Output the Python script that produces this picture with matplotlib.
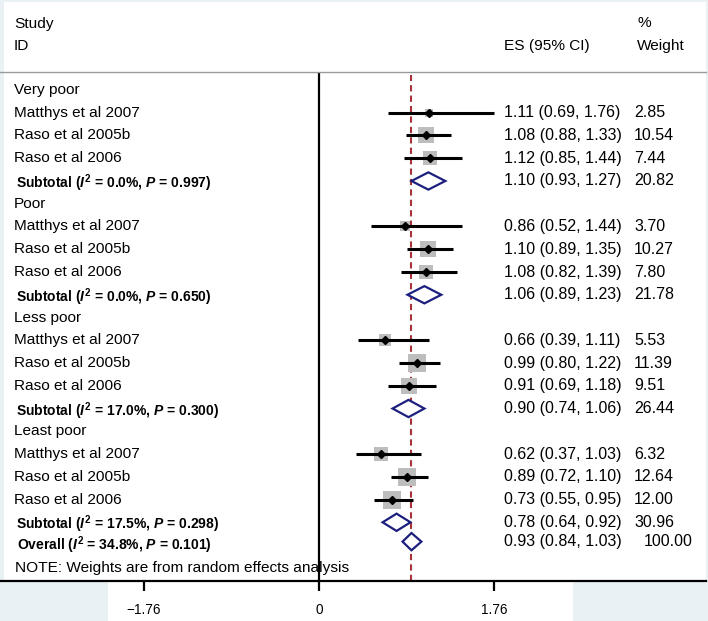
import numpy as np
import matplotlib.pyplot as plt
from matplotlib.patches import Polygon, Rectangle

plt.rcParams['font.family'] = ['Liberation Sans', 'DejaVu Sans']
plt.rcParams['mathtext.fontset'] = 'custom'
plt.rcParams['mathtext.it'] = 'Liberation Sans:italic:bold'
plt.rcParams['mathtext.rm'] = 'Liberation Sans:bold'
plt.rcParams['mathtext.bf'] = 'Liberation Sans:bold'

# data
groups = ['Very poor', 'Poor', 'Less poor', 'Least poor']
studies = ['Matthys et al 2007', 'Raso et al 2005b', 'Raso et al 2006']
es = [[1.11, 1.08, 1.12], [0.86, 1.10, 1.08], [0.66, 0.99, 0.91], [0.62, 0.89, 0.73]]
lo = [[0.69, 0.88, 0.85], [0.52, 0.89, 0.82], [0.39, 0.80, 0.69], [0.37, 0.72, 0.55]]
hi = [[1.76, 1.33, 1.44], [1.44, 1.35, 1.39], [1.11, 1.22, 1.18], [1.03, 1.10, 0.95]]
wt = [[2.85, 10.54, 7.44], [3.70, 10.27, 7.80], [5.53, 11.39, 9.51], [6.32, 12.64, 12.00]]
sub_es = [1.10, 1.06, 0.90, 0.78]
sub_lo = [0.93, 0.89, 0.74, 0.64]
sub_hi = [1.27, 1.23, 1.06, 0.92]
sub_wt = [20.82, 21.78, 26.44, 30.96]
sub_i2 = ['0.0', '0.0', '17.0', '17.5']
sub_p = ['0.997', '0.650', '0.300', '0.298']
ov_es, ov_lo, ov_hi, ov_wt = 0.93, 0.84, 1.03, 100.00
ov_i2, ov_p = '34.8', '0.101'
xticks = [-1.76, 0, 1.76]

W = 706.
fs = 11.1
fs_r = 11.5
navy = '#1c1f7e'

fig = plt.figure(figsize=(7.08, 6.21), dpi=100, facecolor='#e9f1f5')
fig.patches.append(Rectangle((4/708., 1-582/621.), 702/708., 580/621., transform=fig.transFigure,
                             facecolor='white', edgecolor='none', zorder=-10))
fig.patches.append(Rectangle((108/708., 0), 465/708., 39/621., transform=fig.transFigure,
                             facecolor='white', edgecolor='none', zorder=-10))

ax = fig.add_axes([0, 40/621., W/708., 509/621.])
ax.set_facecolor('none')
ax.set_xlim(-319/99.43, (W-319)/99.43)
ax.set_ylim(21.58, -0.79)
tr = ax.get_yaxis_transform()


def diamond(e, l, h, r):
    ax.add_patch(Polygon([(l, r), (e, r-0.38), (h, r), (e, r+0.38)], closed=True,
                         facecolor='white', edgecolor=navy, lw=1.6, zorder=5))


def right_cols(r, e, l, h, w, wx=634):
    ax.text(504/W, r, '%.2f (%.2f, %.2f)' % (e, l, h), transform=tr, fontsize=fs_r, va='center')
    ax.text(wx/W, r, '%.2f' % w, transform=tr, fontsize=fs_r, va='center')


# header
ax.text(14/W, -2.9, 'Study', transform=tr, fontsize=fs, va='center')
ax.text(14/W, -1.93, 'ID', transform=tr, fontsize=fs, va='center')
ax.text(504/W, -1.93, 'ES (95% CI)', transform=tr, fontsize=fs, va='center')
ax.text(637/W, -2.95, '%', transform=tr, fontsize=fs, va='center')
ax.text(637/W, -1.93, 'Weight', transform=tr, fontsize=fs, va='center')

r = 0
for g in range(len(groups)):
    ax.text(14/W, r, groups[g], transform=tr, fontsize=fs, va='center')
    r += 1
    for k in range(len(studies)):
        ax.text(14/W, r, studies[k], transform=tr, fontsize=fs, va='center')
        ax.scatter(es[g][k], r, s=14*wt[g][k], marker='s', color='#bdbdbd', lw=0, zorder=3)
        ax.plot([lo[g][k], hi[g][k]], [r, r], color='black', lw=2.2, zorder=4, solid_capstyle='butt')
        ax.plot(es[g][k], r, 'D', color='black', ms=3.8, zorder=6)
        right_cols(r, es[g][k], lo[g][k], hi[g][k], wt[g][k])
        r += 1
    ax.text(16/W, r + 0.1, 'Subtotal ($I^2$ = %s%%, $P$ = %s)' % (sub_i2[g], sub_p[g]), transform=tr,
            fontsize=10, fontweight='bold', va='center')
    diamond(sub_es[g], sub_lo[g], sub_hi[g], r)
    right_cols(r, sub_es[g], sub_lo[g], sub_hi[g], sub_wt[g])
    r += 1

ax.text(17/W, r, 'Overall ($I^2$ = %s%%, $P$ = %s)' % (ov_i2, ov_p), transform=tr,
        fontsize=10, fontweight='bold', va='center')
diamond(ov_es, ov_lo, ov_hi, r - 0.15)
right_cols(r - 0.15, ov_es, ov_lo, ov_hi, ov_wt, wx=644)
r += 1
ax.text(15/W, r, 'NOTE: Weights are from random effects analysis', transform=tr, fontsize=fs, va='center')

ax.axvline(0, color='black', lw=1.6, zorder=2)
ax.axvline(ov_es, ymax=0.994, color='#a8323a', lw=1.5, ls=(0, (3, 2)), zorder=2)

for s in ['left', 'right']:
    ax.spines[s].set_visible(False)
ax.spines['top'].set_color('#9a9a9a')
ax.spines['top'].set_linewidth(1)
ax.spines['bottom'].set_linewidth(1.6)
ax.set_yticks([])
ax.set_xticks(xticks)
ax.set_xticklabels(['\u22121.76', '0', '1.76'])
ax.tick_params(axis='x', direction='out', length=7, width=1.6, labelsize=9.8, pad=9)

fig.savefig('out.png', dpi=100, facecolor=fig.get_facecolor())
